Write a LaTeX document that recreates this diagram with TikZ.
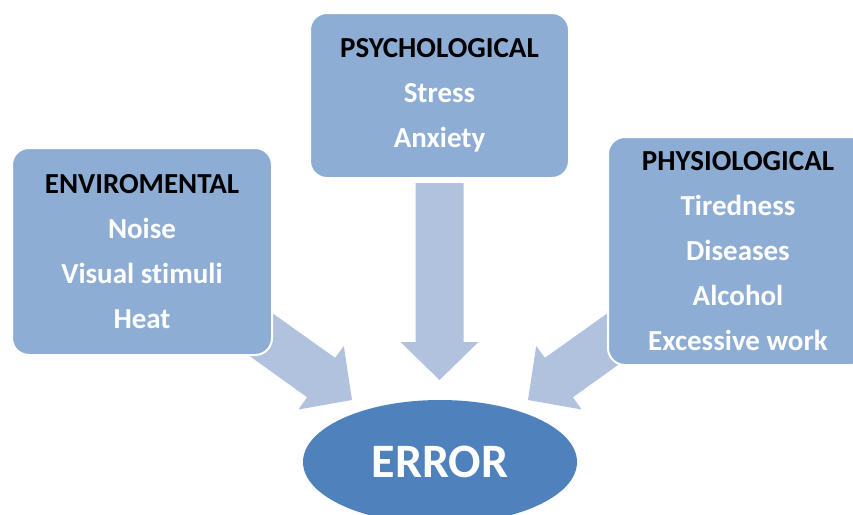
\documentclass[tikz,border=0pt]{standalone}
\usepackage{fontspec}
\setmainfont{Carlito}[Ligatures=NoCommon]
\usetikzlibrary{shapes.geometric}
\definecolor{boxblue}{RGB}{141,173,213}
\definecolor{arrowblue}{RGB}{177,194,222}
\definecolor{errblue}{RGB}{79,129,189}
\tikzset{
  catbox/.style={rectangle, rounded corners=17pt, fill=boxblue, draw=white, line width=2pt,
    align=center, text=white, inner sep=0pt,
    font=\bfseries\fontsize{29}{45}\selectfont},
  blockarrow/.style={fill=arrowblue, draw=none},
  errnode/.style={ellipse, fill=errblue, draw=none, inner sep=0pt, text=white,
    font=\bfseries\fontsize{48}{48}\selectfont}
}
\newcommand{\hd}[1]{\textcolor{black}{#1}}
\begin{document}
\begin{tikzpicture}[x=1pt,y=-1pt]
\clip (0,0) rectangle (853,514);
\useasboundingbox (0,0) rectangle (853,514);
\fill[white] (0,0) rectangle (853,514);
% block arrows (behind boxes)
\fill[blockarrow] (415.5,183) -- (463.5,183) -- (463.5,342) -- (478.5,342) -- (439.5,380) -- (400.5,342) -- (415.5,342) -- cycle;
\fill[blockarrow] (253.9,300.0) -- (335.1,357.8) -- (343.8,346.1) -- (352,400) -- (298.4,409.5) -- (307.1,397.3) -- (225.9,339.0) -- cycle;
\fill[blockarrow] (626.1,300.0) -- (544.9,357.8) -- (536.2,346.1) -- (528,400) -- (581.6,409.5) -- (572.9,397.3) -- (654.1,339.0) -- cycle;
% boxes
\node[catbox, minimum width=260pt, minimum height=207pt] (env) at (142,251.5)
  {\hd{ENVIROMENTAL}\\Noise\\Visual stimuli\\Heat};
\node[catbox, minimum width=259pt, minimum height=165pt] (psy) at (439.5,95.5)
  {\hd{PSYCHOLOGICAL}\\Stress\\Anxiety};
\node[catbox, minimum width=260pt, minimum height=228pt] (phy) at (738,251)
  {\hd{PHYSIOLOGICAL}\\Tiredness\\Diseases\\Alcohol\\Excessive work};
% error ellipse
\node[errnode, minimum width=274pt, minimum height=124pt] (err) at (440,462) {ERROR};
\end{tikzpicture}
\end{document}
